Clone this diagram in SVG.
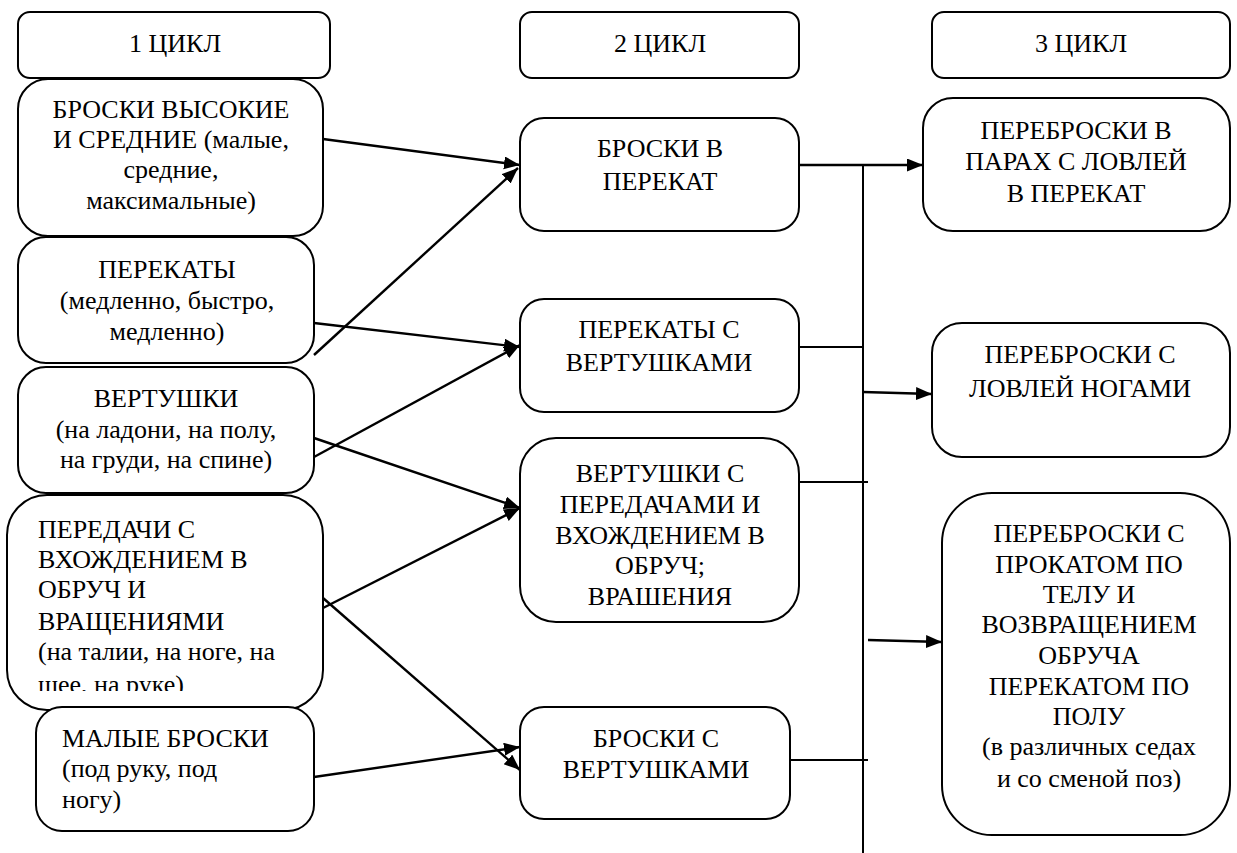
<svg xmlns="http://www.w3.org/2000/svg" width="1237" height="853" viewBox="0 0 1237 853">
<style>
.box{fill:#fff;stroke:#000;stroke-width:2}
.t{font-family:'Liberation Serif','Times New Roman',serif;font-size:26px;fill:#000}
.c{text-anchor:middle}
.ln{stroke:#000;stroke-width:2;fill:none}
.ar{stroke:#000;stroke-width:2.4;fill:none;marker-end:url(#ah)}
</style>
<defs>
<marker id="ah" markerUnits="userSpaceOnUse" markerWidth="18" markerHeight="14" refX="16" refY="6.5" orient="auto">
<path d="M0,0 L16,6.5 L0,13 Z" fill="#000"/>
</marker>
<clipPath id="clipP"><rect x="0" y="495" width="330" height="196"/></clipPath>
</defs>
<g id="connectors">
<line class="ln" x1="863" y1="165" x2="863" y2="853"/>
<line class="ar" x1="799" y1="165" x2="923" y2="165"/>
<line class="ln" x1="799" y1="347" x2="863" y2="347"/>
<line class="ar" x1="863" y1="392" x2="932" y2="394"/>
<line class="ln" x1="799" y1="482" x2="868" y2="482"/>
<line class="ar" x1="868" y1="640" x2="942" y2="642"/>
<line class="ln" x1="790" y1="760" x2="868" y2="760"/>
<line class="ar" x1="323" y1="139" x2="520" y2="165"/>
<line class="ar" x1="314" y1="355" x2="518" y2="168"/>
<line class="ar" x1="314" y1="323" x2="520" y2="347"/>
<line class="ar" x1="314" y1="457" x2="520" y2="345"/>
<line class="ar" x1="314" y1="438" x2="520" y2="508"/>
<line class="ar" x1="323" y1="608" x2="520" y2="508"/>
<line class="ar" x1="323" y1="598" x2="520" y2="770"/>
<line class="ar" x1="314" y1="777" x2="520" y2="747"/>
</g>
<g id="h1"><rect class="box" x="18" y="12" width="312" height="66" rx="12"/><text class="t c" x="175" y="52">1 ЦИКЛ</text></g>
<g id="h2"><rect class="box" x="520" y="12" width="279" height="66" rx="12"/><text class="t c" x="660" y="52">2 ЦИКЛ</text></g>
<g id="h3"><rect class="box" x="932" y="12" width="298" height="66" rx="12"/><text class="t c" x="1081" y="52">3 ЦИКЛ</text></g>
<g id="n1"><rect class="box" x="18" y="79" width="305" height="157" rx="30"/>
<text class="t c" x="171" y="118">БРОСКИ ВЫСОКИЕ</text>
<text class="t c" x="171" y="148">И СРЕДНИЕ (малые,</text>
<text class="t c" x="171" y="178">средние,</text>
<text class="t c" x="171" y="209">максимальные)</text></g>
<g id="n2"><rect class="box" x="18" y="237" width="296" height="126" rx="28"/>
<text class="t c" x="167" y="278">ПЕРЕКАТЫ</text>
<text class="t c" x="167" y="309">(медленно, быстро,</text>
<text class="t c" x="167" y="340">медленно)</text></g>
<g id="n3"><rect class="box" x="18" y="367" width="296" height="126" rx="28"/>
<text class="t c" x="166" y="407">ВЕРТУШКИ</text>
<text class="t c" x="166" y="438">(на ладони, на полу,</text>
<text class="t c" x="166" y="468">на груди, на спине)</text></g>
<g id="n4"><rect class="box" x="7" y="495" width="316" height="215" rx="40"/>
<g clip-path="url(#clipP)">
<text class="t" x="38" y="538">ПЕРЕДАЧИ С</text>
<text class="t" x="38" y="568">ВХОЖДЕНИЕМ В</text>
<text class="t" x="38" y="598">ОБРУЧ И</text>
<text class="t" x="38" y="630">ВРАЩЕНИЯМИ</text>
<text class="t" x="38" y="660">(на талии, на ноге, на</text>
<text class="t" x="38" y="693">шее, на руке)</text></g></g>
<g id="n5"><rect class="box" x="36" y="707" width="278" height="124" rx="26"/>
<text class="t" x="62" y="747">МАЛЫЕ БРОСКИ</text>
<text class="t" x="62" y="777">(под руку, под</text>
<text class="t" x="62" y="808">ногу)</text></g>
<g id="m1"><rect class="box" x="520" y="118" width="279" height="113" rx="24"/>
<text class="t c" x="660" y="157">БРОСКИ В</text>
<text class="t c" x="660" y="190">ПЕРЕКАТ</text></g>
<g id="m2"><rect class="box" x="520" y="299" width="279" height="113" rx="24"/>
<text class="t c" x="659" y="338">ПЕРЕКАТЫ С</text>
<text class="t c" x="659" y="371">ВЕРТУШКАМИ</text></g>
<g id="m3"><rect class="box" x="520" y="438" width="279" height="184" rx="36"/>
<text class="t c" x="660" y="482">ВЕРТУШКИ С</text>
<text class="t c" x="660" y="513">ПЕРЕДАЧАМИ И</text>
<text class="t c" x="660" y="544">ВХОЖДЕНИЕМ В</text>
<text class="t c" x="660" y="574">ОБРУЧ;</text>
<text class="t c" x="660" y="605">ВРАШЕНИЯ</text></g>
<g id="m4"><rect class="box" x="520" y="707" width="270" height="112" rx="24"/>
<text class="t c" x="656" y="747">БРОСКИ С</text>
<text class="t c" x="656" y="778">ВЕРТУШКАМИ</text></g>
<g id="r1"><rect class="box" x="923" y="98" width="307" height="133" rx="30"/>
<text class="t c" x="1076" y="139">ПЕРЕБРОСКИ В</text>
<text class="t c" x="1076" y="170">ПАРАХ С ЛОВЛЕЙ</text>
<text class="t c" x="1076" y="202">В ПЕРЕКАТ</text></g>
<g id="r2"><rect class="box" x="932" y="323" width="298" height="134" rx="30"/>
<text class="t c" x="1080" y="363">ПЕРЕБРОСКИ С</text>
<text class="t c" x="1080" y="397">ЛОВЛЕЙ НОГАМИ</text></g>
<g id="r3"><rect class="box" x="942" y="493" width="288" height="342" rx="50"/>
<text class="t c" x="1089" y="542">ПЕРЕБРОСКИ С</text>
<text class="t c" x="1089" y="573">ПРОКАТОМ ПО</text>
<text class="t c" x="1089" y="603">ТЕЛУ И</text>
<text class="t c" x="1089" y="633">ВОЗВРАЩЕНИЕМ</text>
<text class="t c" x="1089" y="664">ОБРУЧА</text>
<text class="t c" x="1089" y="695">ПЕРЕКАТОМ ПО</text>
<text class="t c" x="1089" y="725">ПОЛУ</text>
<text class="t c" x="1089" y="755">(в различных седах</text>
<text class="t c" x="1089" y="787">и со сменой поз)</text></g>
</svg>
